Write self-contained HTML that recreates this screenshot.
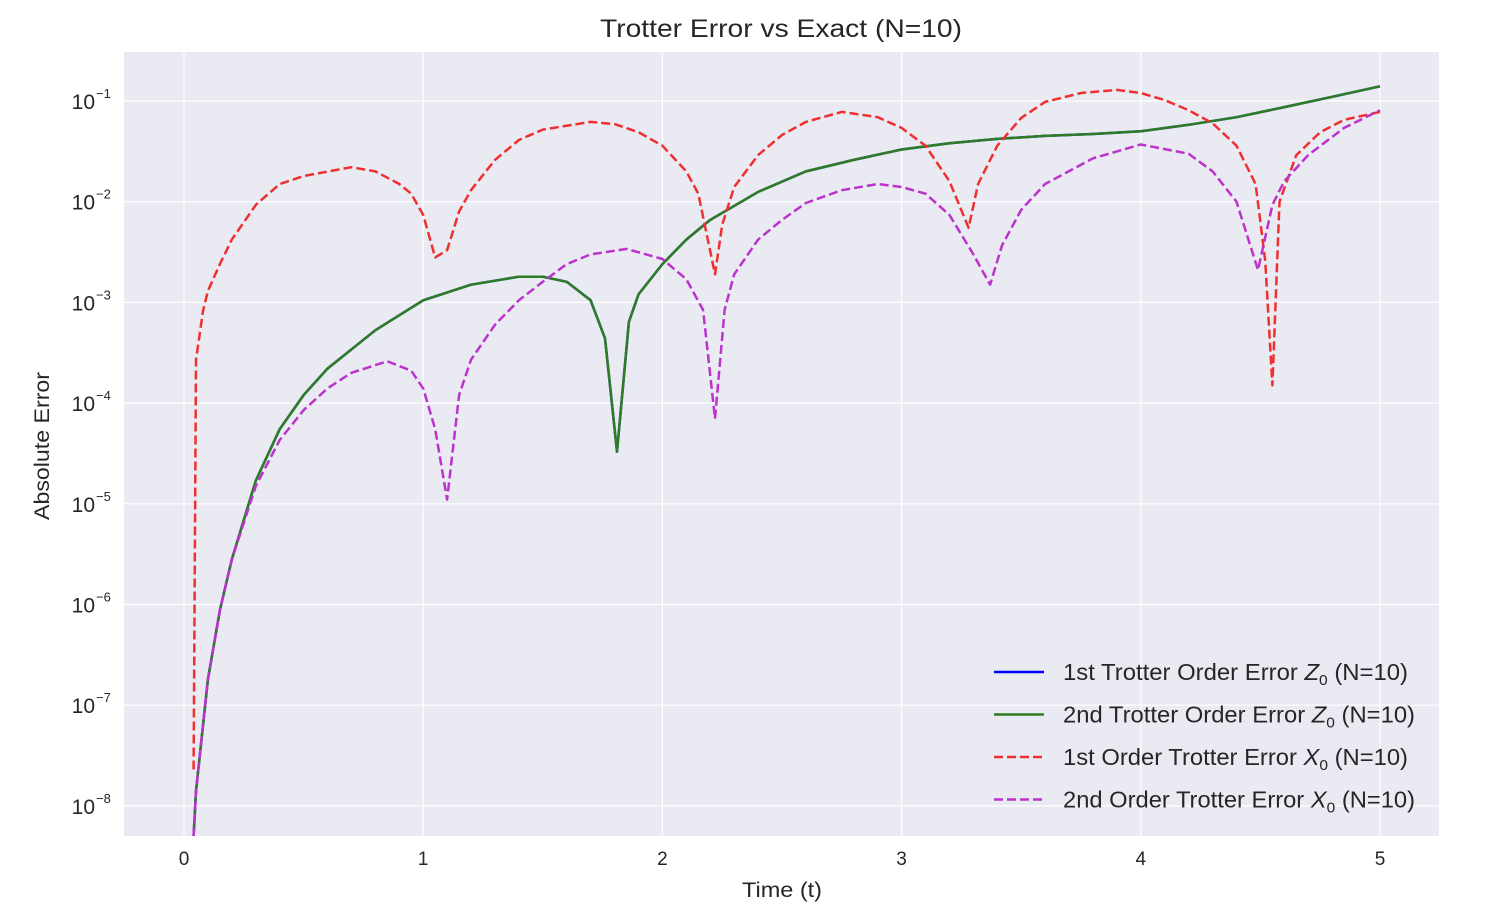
<!DOCTYPE html>
<html><head><meta charset="utf-8"><style>
body{margin:0;background:#fff;font-family:"Liberation Sans",sans-serif}
svg text{font-family:"Liberation Sans",sans-serif;fill:#262626}
</style></head><body>
<svg id="chart" width="1494" height="914" viewBox="0 0 1494 914"></svg>
<script>
// data arrays
const redT=[0.04,0.05,0.08,0.1,0.15,0.2,0.3,0.4,0.5,0.7,0.8,0.9,0.95,1.0,1.05,1.1,1.15,1.2,1.3,1.4,1.5,1.7,1.8,1.9,2.0,2.1,2.15,2.22,2.25,2.3,2.4,2.5,2.6,2.75,2.9,3.0,3.1,3.2,3.28,3.32,3.4,3.5,3.6,3.75,3.9,4.0,4.1,4.2,4.3,4.4,4.48,4.52,4.55,4.58,4.65,4.75,4.85,5.0];
const redV=[2.3e-8,2.7e-4,8.3e-4,1.3e-3,2.4e-3,4.2e-3,9.3e-3,1.5e-2,1.8e-2,2.2e-2,2.0e-2,1.5e-2,1.2e-2,7.4e-3,2.8e-3,3.3e-3,8e-3,1.3e-2,2.6e-2,4.1e-2,5.2e-2,6.2e-2,5.9e-2,4.9e-2,3.6e-2,2.0e-2,1.2e-2,1.9e-3,5.9e-3,1.4e-2,2.9e-2,4.6e-2,6.2e-2,7.8e-2,6.9e-2,5.4e-2,3.6e-2,1.6e-2,5.5e-3,1.5e-2,3.6e-2,6.8e-2,9.8e-2,1.2e-1,1.29e-1,1.2e-1,1.02e-1,8.1e-2,6.0e-2,3.6e-2,1.5e-2,2.6e-3,1.5e-4,1.0e-2,2.9e-2,4.9e-2,6.5e-2,7.8e-2];
const greenT=[0.04,0.05,0.1,0.15,0.2,0.3,0.4,0.5,0.6,0.8,1.0,1.2,1.4,1.5,1.6,1.7,1.76,1.81,1.86,1.9,2.0,2.1,2.2,2.4,2.6,2.8,3.0,3.2,3.4,3.6,3.8,4.0,4.2,4.4,4.6,4.8,5.0];
const greenV=[5e-9,1.4e-8,1.8e-7,8.8e-7,2.8e-6,1.7e-5,5.5e-5,1.2e-4,2.2e-4,5.3e-4,1.05e-3,1.5e-3,1.8e-3,1.8e-3,1.6e-3,1.05e-3,4.4e-4,3.3e-5,6.4e-4,1.2e-3,2.4e-3,4.2e-3,6.6e-3,1.25e-2,2.0e-2,2.6e-2,3.3e-2,3.8e-2,4.2e-2,4.5e-2,4.7e-2,5.0e-2,5.8e-2,6.9e-2,8.7e-2,1.1e-1,1.4e-1];
const purpleT=[0.04,0.05,0.1,0.15,0.2,0.3,0.4,0.5,0.6,0.7,0.85,0.95,1.0,1.05,1.1,1.15,1.2,1.3,1.4,1.5,1.6,1.7,1.85,2.0,2.1,2.17,2.22,2.26,2.3,2.4,2.5,2.6,2.75,2.9,3.0,3.1,3.2,3.3,3.37,3.42,3.5,3.6,3.8,4.0,4.2,4.3,4.4,4.49,4.55,4.6,4.7,4.85,5.0];
const purpleV=[5e-9,1.4e-8,1.8e-7,8.8e-7,2.8e-6,1.5e-5,4.3e-5,8.5e-5,1.4e-4,2.0e-4,2.6e-4,2.1e-4,1.4e-4,5.5e-5,1.1e-5,1.2e-4,2.7e-4,6.0e-4,1.05e-3,1.6e-3,2.4e-3,3.0e-3,3.4e-3,2.7e-3,1.7e-3,8.4e-4,7e-5,8.4e-4,1.9e-3,4.2e-3,6.6e-3,9.7e-3,1.3e-2,1.5e-2,1.4e-2,1.2e-2,7.4e-3,3.0e-3,1.5e-3,3.7e-3,8.3e-3,1.5e-2,2.7e-2,3.7e-2,3.0e-2,2.0e-2,1.0e-2,2.1e-3,9.3e-3,1.6e-2,2.9e-2,5.4e-2,8.1e-2];
const xTicks=[0,1,2,3,4,5];
const yExps=[-1,-2,-3,-4,-5,-6,-7,-8];

const NS="http://www.w3.org/2000/svg";
const svg=document.getElementById('chart');
const L=124,R=1439,T=52,B=836;
const xs=t=>184+t*239.2;
const ys=v=>101+(-1-Math.log10(v))*100.7;
function mk(tag,attrs,parent){const e=document.createElementNS(NS,tag);for(const k in attrs)e.setAttribute(k,attrs[k]);(parent||svg).appendChild(e);return e;}

const bg=mk('rect',{x:L,y:T,width:R-L,height:B-T,fill:'#eaeaf2'});



xTicks.forEach(t=>{
  const g=mk('line',{x1:xs(t),x2:xs(t),y1:T,y2:B,stroke:'#fff','stroke-width':1.2});
  
  
  const lb=mk('text',{x:xs(t),y:865,'text-anchor':'middle','font-size':19});
  lb.textContent=t;
  
  
});
yExps.forEach(e=>{
  const y=ys(Math.pow(10,e));
  const g=mk('line',{x1:L,x2:R,y1:y,y2:y,stroke:'#fff','stroke-width':1.2});
  
  
  const lb=mk('text',{x:95,y:y+8,'text-anchor':'end','font-size':21});
  lb.textContent='10';
  
  
  const sp=mk('text',{x:96,y:y-3,'text-anchor':'start','font-size':13});
  sp.textContent='\u2212'+(-e);
  
  
});

const clip=mk('clipPath',{id:'pc'});
mk('rect',{x:L,y:T,width:R-L,height:B-T},clip);

function series(T_,V_,color,dash,name){
  const d=T_.map((t,i)=>(i?'L':'M')+xs(t).toFixed(1)+','+ys(V_[i]).toFixed(1)).join('');
  const p=mk('path',{d:d,fill:'none',stroke:color,'stroke-width':2.5,'clip-path':'url(#pc)','stroke-linejoin':'round'});
  if(dash)p.setAttribute('stroke-dasharray','9,4');
  
  
}
series(greenT,greenV,'#0000ff',false,'line-1st-order-z0');
series(greenT,greenV,'#2e7d22',false,'line-2nd-order-z0');
series(redT,redV,'#ee3030',true,'line-1st-order-x0');
series(purpleT,purpleV,'#bb33cc',true,'line-2nd-order-x0');

const title=mk('text',{x:600,y:37,'font-size':25,textLength:362,lengthAdjust:'spacingAndGlyphs'});
title.textContent='Trotter Error vs Exact (N=10)';


const xt=mk('text',{x:742,y:897,'font-size':21,textLength:80,lengthAdjust:'spacingAndGlyphs'});
xt.textContent='Time (t)';


const yt=mk('text',{x:0,y:0,'font-size':21,textLength:148,lengthAdjust:'spacingAndGlyphs',transform:'translate(49,520) rotate(-90)'});
yt.textContent='Absolute Error';



const legItems=[['1st Trotter Order Error ','Z','#0000ff',false,345],['2nd Trotter Order Error ','Z','#2e7d22',false,352],['1st Order Trotter Error ','X','#ee3030',true,345],['2nd Order Trotter Error ','X','#bb33cc',true,352]];
legItems.forEach((it,i)=>{
  const y=672+i*42.5;
  const ln=mk('line',{x1:994,x2:1044,y1:y,y2:y,stroke:it[2],'stroke-width':2.5});
  if(it[3])ln.setAttribute('stroke-dasharray','9,4');
  
  
  const tx=mk('text',{x:1063,y:y+8,'font-size':23,textLength:it[4],lengthAdjust:'spacingAndGlyphs'});
  tx.innerHTML=it[0]+'<tspan font-style="italic">'+it[1]+'</tspan><tspan font-size="15" dy="5">0</tspan><tspan dy="-5"> (N=10)</tspan>';
  
  
});
</script>
</body></html>
